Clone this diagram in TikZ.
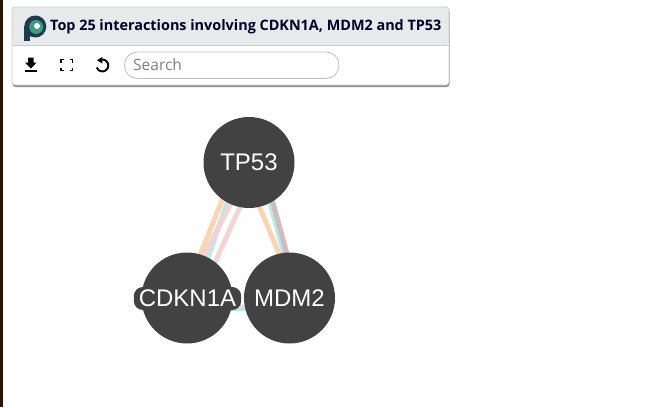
\documentclass[tikz,border=0pt]{standalone}
\usepackage{fontspec}
\setmainfont{Open Sans}
\newfontfamily\genefont{Liberation Sans}
\usetikzlibrary{backgrounds,shadows}
\definecolor{nodegray}{HTML}{424242}
\definecolor{headgray}{HTML}{E6EAEB}
\definecolor{edgeorange}{HTML}{F9D3AE}
\definecolor{edgecyan}{HTML}{BAE6EB}
\definecolor{edgepink}{HTML}{F3D3D3}
\definecolor{edgetaupe}{HTML}{D0B8B8}
\definecolor{logonavy}{HTML}{1E3A4C}
\definecolor{logogreen}{HTML}{3C9C80}
\definecolor{stripbrown}{HTML}{2A1408}
\tikzset{
  gene/.style={circle,fill=nodegray,minimum size=91pt,inner sep=0pt,text=white,font=\genefont\fontsize{24}{24}\selectfont},
  genelabel/.style={fill=nodegray,rounded corners=9pt,text=white,inner xsep=5pt,inner ysep=3pt,font=\genefont\fontsize{24}{24}\selectfont},
  interaction/.style={line width=5pt,opacity=.95},
  icon/.style={black,line width=1.9pt}
}
\begin{document}
\begin{tikzpicture}[x=1pt,y=-1pt]
 	\useasboundingbox (0,0) rectangle (647,407);
 	\fill[stripbrown] (0,0) rectangle (3,407);

 	% panel
 	\fill[rounded corners=3pt,black!45] (12.5,9) rectangle (449.5,87);
 	\fill[rounded corners=3pt,white] (12,7) rectangle (449,85);
 	\fill[headgray,rounded corners=3pt] (12,45) -- (12,7) -- (449,7) -- (449,45) -- cycle;
 	\draw[black!20,line width=.7pt] (12,45) -- (449,45);
 	\draw[black!20,line width=.7pt,rounded corners=3pt] (12,7) rectangle (449,85);

 	% logo
 	\fill[logonavy] (35.3,26.5) circle (11);
 	\fill[logonavy] (24.3,26) rectangle (30,40.5);
 	\fill[logogreen] (36.2,27) circle (7);
 	\fill[white] (37,26) circle (3);

 	\node[anchor=west,inner sep=0pt,font=\bfseries\fontsize{14.4}{15}\selectfont,text=black!85!blue] (title) at (50,26.5) {Top 25 interactions involving CDKN1A, MDM2 and TP53};

 	% toolbar
 	\fill[black] (28,57.7) -- (33.7,57.7) -- (33.7,62.5) -- (36.7,62.5) -- (30.85,68.5) -- (25,62.5) -- (28,62.5) -- cycle;
 	\fill[black] (25,69.7) rectangle (36.7,71.7);
 	\draw[icon] (61,62.5) -- (61,59.5) -- (64,59.5) (69.5,59.5) -- (72.5,59.5) -- (72.5,62.5) (72.5,67.5) -- (72.5,70.5) -- (69.5,70.5) (64,70.5) -- (61,70.5) -- (61,67.5);
 	\draw[icon] (102.3,59.5) arc (90:-160:6pt);
 	\fill[black] (102.3,57) -- (102.3,63.5) -- (97,60.2) -- cycle;
 	\draw[black!25,line width=.8pt,fill=white,rounded corners=13pt] (124.5,52) rectangle (339,78.5);
 	\node[anchor=west,inner sep=0pt,text=black!50,font=\fontsize{15.5}{16}\selectfont] (search) at (133,65) {Search};

 	% network
 	\node[gene] (TP53) at (249,162.5) {TP53};
 	\node[gene] (CDKN1A) at (187,298) {};
 	\node[gene] (MDM2) at (289.5,298) {MDM2};
 	\node[genelabel] (CDKN1Alabel) at (187.5,298.5) {CDKN1A};

 	\begin{scope}[on background layer]
 		\draw[interaction,edgeorange] ([xshift=-12pt]TP53.center) -- ([xshift=-4pt]CDKN1A.center);
 		\draw[interaction,edgecyan] ([xshift=-8pt]TP53.center) -- ([xshift=7pt]CDKN1A.center);
 		\draw[interaction,edgepink] ([xshift=3pt]TP53.center) -- ([xshift=-5pt]CDKN1A.center);
 		\draw[interaction,edgepink] ([xshift=11pt]TP53.center) -- ([xshift=12pt]CDKN1A.center);
 		\draw[interaction,edgeorange] ([xshift=-8pt]TP53.center) -- ([xshift=8pt]MDM2.center);
 		\draw[interaction,edgecyan] ([xshift=9.5pt]TP53.center) -- ([xshift=7pt]MDM2.center);
 		\draw[interaction,edgetaupe] ([xshift=13pt]TP53.center) -- ([xshift=9.5pt]MDM2.center);
 		\draw[line width=3pt,edgepink] ([yshift=-8pt]CDKN1A.center) -- ([yshift=-8pt]MDM2.center);
 		\draw[line width=3pt,edgecyan] ([yshift=-11pt]CDKN1A.center) -- ([yshift=-11pt]MDM2.center);
 	\end{scope}
\end{tikzpicture}
\end{document}
